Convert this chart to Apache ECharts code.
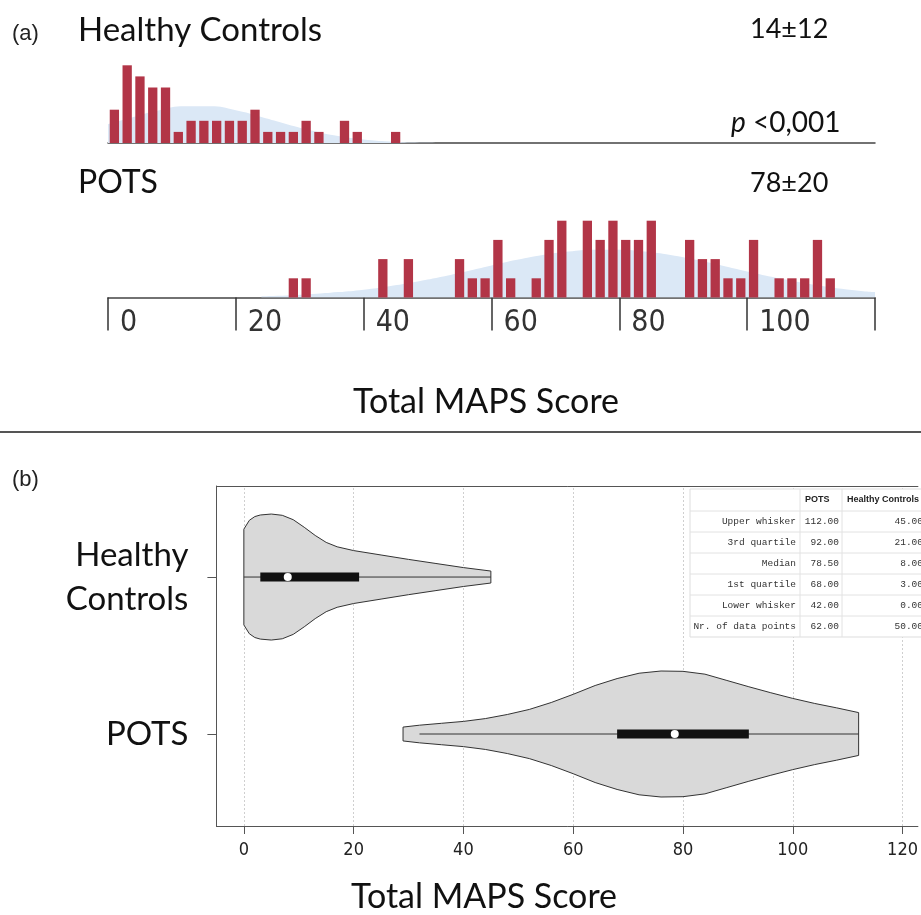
<!DOCTYPE html>
<html>
<head>
<meta charset="utf-8">
<script src="https://cdn.jsdelivr.net/npm/echarts@6/dist/echarts.min.js"></script>
<style>
  html, body { margin: 0; padding: 0; background: #ffffff; }
  #chart { width: 921px; height: 915px; }
</style>
</head>
<body>
<div id="chart"></div>
<script>
// ---- Histogram data (bins of width 2, first bin starts at 0) ----
const binWidth = 2;
const healthyCounts = [3, 7, 6, 5, 5, 1, 2, 2, 2, 2, 2, 3, 1, 1, 1, 2, 1, 0, 2, 1, 0, 0, 1];
const potsCounts = [
  0, 0, 0, 0, 0, 0, 0, 0, 0, 0, 0, 0, 0, 0, 1, 1, 0, 0, 0, 0,
  0, 2, 0, 2, 0, 0, 0, 2, 1, 1, 3, 1, 0, 1, 3, 4, 0, 4, 3, 4,
  3, 3, 4, 0, 0, 3, 2, 2, 1, 1, 3, 0, 1, 1, 1, 3, 1
];

// Smoothed distribution behind the bars: [score, height in counts]
const healthyDensity = [
  [0, 1.7], [4, 2.35], [8, 2.95], [12, 3.3], [16, 3.3], [20, 2.95], [24, 2.35],
  [28, 1.7], [32, 1.1], [36, 0.62], [40, 0.32], [44, 0.14], [48, 0.04], [52, 0]
];
const potsDensity = [
  [24, 0.07], [28, 0.11], [32, 0.18], [36, 0.28], [40, 0.41], [44, 0.59], [48, 0.81],
  [52, 1.07], [56, 1.36], [60, 1.67], [64, 1.96], [68, 2.21], [72, 2.39], [76, 2.49],
  [80, 2.49], [84, 2.39], [88, 2.21], [92, 1.96], [96, 1.67], [100, 1.36], [104, 1.07],
  [108, 0.81], [112, 0.59], [116, 0.41], [120, 0.28]
];

// ---- Group summaries ----
const healthySummary = '14±12';
const potsSummary = '78±20';
const pValueText = '<0,001';

// ---- Box plot statistics (table rows, in order) ----
const statNames = ['Upper whisker', '3rd quartile', 'Median', '1st quartile', 'Lower whisker', 'Nr. of data points'];
const potsStats = [112, 92, 78.5, 68, 42, 62];
const healthyStats = [45, 21, 8, 3, 0, 50];
const tableHeader = ['POTS', 'Healthy Controls'];
const potsLowest = 32;   // smallest POTS score, start of the centre line

// Violin outlines: [score, relative density (peak = 1)]
const healthyViolin = [
  [0, 0.76], [1, 0.90], [2, 0.96], [3, 0.985], [5, 1.0], [7, 0.98], [9, 0.91],
  [11, 0.79], [13, 0.66], [15, 0.55], [17, 0.48], [20, 0.42], [25, 0.35],
  [30, 0.28], [35, 0.215], [40, 0.15], [45, 0.095]
];
const potsViolin = [
  [29, 0.11], [32, 0.14], [36, 0.17], [40, 0.20], [44, 0.245], [48, 0.31],
  [52, 0.39], [56, 0.50], [60, 0.63], [64, 0.77], [68, 0.88], [72, 0.965],
  [76, 1.0], [80, 0.995], [84, 0.95], [88, 0.85], [92, 0.75], [96, 0.655],
  [100, 0.565], [104, 0.485], [108, 0.415], [112, 0.34]
];

// Axis ticks
const violinTicks = [0, 20, 40, 60, 80, 100, 120];
const groupNames = ['POTS', 'Healthy\nControls'];   // y positions 0 and 1

// ---- Styling ----
const BAR_COLOR = '#b23547';
const DENSITY_COLOR = '#dbe8f6';
const TITLE_FONT = "Lato, 'Open Sans', sans-serif";
const NARROW_FONT = "'Liberation Sans Narrow', 'DejaVu Sans Condensed', 'Liberation Sans', sans-serif";
const VIOLIN_HALF = 63;

const toBars = (counts) => counts.map((c, i) => [i * binWidth + binWidth / 2, c]);

function violinRenderer(profile, stats, lineFrom) {
  return function (params, api) {
    const yv = api.value(1);
    const up = [], down = [];
    profile.forEach(([v, d]) => {
      const p = api.coord([v, yv]);
      up.push([p[0], p[1] - d * VIOLIN_HALF]);
      down.unshift([p[0], p[1] + d * VIOLIN_HALF]);
    });
    const c = (v) => api.coord([v, yv]);
    const q1 = c(stats[3]), q3 = c(stats[1]), med = c(stats[2]);
    const w0 = c(lineFrom), w1 = c(stats[0]);
    return {
      type: 'group',
      children: [
        { type: 'polygon', shape: { points: up.concat(down) },
          style: { fill: '#d9d9d9', stroke: '#333', lineWidth: 1 } },
        { type: 'line', shape: { x1: w0[0], y1: w0[1], x2: w1[0], y2: w1[1] },
          style: { stroke: '#333', lineWidth: 1 } },
        { type: 'rect', shape: { x: q1[0], y: q1[1] - 4.5, width: q3[0] - q1[0], height: 9 },
          style: { fill: '#111' } },
        { type: 'circle', shape: { cx: med[0], cy: med[1], r: 4 },
          style: { fill: '#ffffff' } }
      ]
    };
  };
}

// ---- Statistics table ----
function buildTable() {
  const left = 690, colA = 800, colB = 842, right = 940;
  const top = 489, headH = 22, rowH = 21;
  const els = [];
  const bottom = top + headH + rowH * statNames.length;
  els.push({ type: 'rect', shape: { x: left, y: top, width: right - left, height: bottom - top },
    style: { fill: '#ffffff', stroke: '#dddddd', lineWidth: 1 }, z: 100 });
  [colA, colB].forEach(x => els.push({ type: 'line', shape: { x1: x, y1: top, x2: x, y2: bottom },
    style: { stroke: '#e2e2e2', lineWidth: 1 }, z: 101 }));
  for (let i = 0; i < statNames.length; i++) {
    const y = top + headH + rowH * i;
    els.push({ type: 'line', shape: { x1: left, y1: y, x2: right, y2: y },
      style: { stroke: '#e2e2e2', lineWidth: 1 }, z: 101 });
  }
  els.push({ type: 'text', x: colA + 5, y: top + headH / 2, z: 102,
    style: { text: tableHeader[0], font: "bold 9px 'Liberation Sans', Arial, sans-serif",
      fill: '#222', verticalAlign: 'middle' } });
  els.push({ type: 'text', x: colB + 5, y: top + headH / 2, z: 102,
    style: { text: tableHeader[1], font: "bold 9px 'Liberation Sans', Arial, sans-serif",
      fill: '#222', verticalAlign: 'middle' } });
  const mono = "9.5px 'Liberation Mono', 'DejaVu Sans Mono', monospace";
  statNames.forEach((name, i) => {
    const cy = top + headH + rowH * i + rowH / 2;
    els.push({ type: 'text', x: colA - 4, y: cy, z: 102,
      style: { text: name, font: mono, fill: '#333', align: 'right', verticalAlign: 'middle' } });
    els.push({ type: 'text', x: colB - 3, y: cy, z: 102,
      style: { text: potsStats[i].toFixed(2), font: mono, fill: '#333', align: 'right', verticalAlign: 'middle' } });
    els.push({ type: 'text', x: 923, y: cy, z: 102,
      style: { text: healthyStats[i].toFixed(2), font: mono, fill: '#333', align: 'right', verticalAlign: 'middle' } });
  });
  return els;
}

const chart = echarts.init(document.getElementById('chart'), null, { renderer: 'canvas' });

const titleText = (text, x, y, size, extra) => Object.assign({
  type: 'text', x: x, y: y, z: 50,
  style: Object.assign({ text: text, font: size + 'px ' + TITLE_FONT, fill: '#111', verticalAlign: 'middle' }, extra || {})
});

const option = {
  animation: false,
  backgroundColor: '#ffffff',
  textStyle: { fontFamily: TITLE_FONT },
  grid: [
    { left: 108, width: 767, top: 54.2, height: 88.8 },
    { left: 108, width: 767, top: 201.5, height: 96 },
    { left: 216.4, width: 705, top: 486, height: 340 }
  ],
  xAxis: [
    { gridIndex: 0, type: 'value', min: 0, max: 120,
      axisLine: { show: true, onZero: false, lineStyle: { color: '#444', width: 1.5 } },
      axisTick: { show: false }, axisLabel: { show: false }, splitLine: { show: false } },
    { gridIndex: 1, type: 'value', min: 0, max: 120, interval: 20,
      axisLine: { show: true, onZero: false, lineStyle: { color: '#444', width: 1.5 } },
      axisTick: { show: true, length: 33, lineStyle: { color: '#333', width: 1.5 } },
      axisLabel: { show: true, align: 'left', verticalAlign: 'middle', margin: 26, padding: [0, 0, 0, 12],
        fontFamily: NARROW_FONT, fontSize: 30, color: '#333',
        formatter: (v) => (v === 120 ? '' : String(v)) },
      splitLine: { show: false } },
    { gridIndex: 2, type: 'value', min: -5, max: 122.8,
      axisLine: { show: true, onZero: false, lineStyle: { color: '#555', width: 1 } },
      axisTick: { show: true, length: 8, customValues: violinTicks, lineStyle: { color: '#555' } },
      axisLabel: { show: true, customValues: violinTicks, margin: 24, verticalAlign: 'middle',
        fontFamily: NARROW_FONT, fontSize: 18, color: '#222' },
      splitLine: { show: false } },
    // top edge of the violin panel frame
    { gridIndex: 2, type: 'value', position: 'top', min: -5, max: 122.8,
      axisLine: { show: true, onZero: false, lineStyle: { color: '#555', width: 1 } },
      axisTick: { show: false }, axisLabel: { show: false }, splitLine: { show: false } }
  ],
  yAxis: [
    { gridIndex: 0, type: 'value', min: 0, max: 8, show: false },
    { gridIndex: 1, type: 'value', min: 0, max: 5, show: false },
    { gridIndex: 2, type: 'value', min: -0.586, max: 1.58,
      axisLine: { show: true, onZero: false, lineStyle: { color: '#555', width: 1 } },
      axisTick: { show: true, length: 9, customValues: [0, 1], lineStyle: { color: '#555' } },
      axisLabel: { show: true, customValues: [0, 1], margin: 28, align: 'right',
        fontFamily: TITLE_FONT, fontSize: 33, lineHeight: 44, color: '#111',
        formatter: (v) => groupNames[Math.round(v)] },
      splitLine: { show: false } }
  ],
  series: [
    { type: 'line', xAxisIndex: 0, yAxisIndex: 0, data: healthyDensity, smooth: true,
      showSymbol: false, lineStyle: { width: 0, opacity: 0 }, areaStyle: { color: DENSITY_COLOR, opacity: 1 },
      z: 1, silent: true },
    { type: 'bar', xAxisIndex: 0, yAxisIndex: 0, data: toBars(healthyCounts), barWidth: 9.3,
      itemStyle: { color: BAR_COLOR }, z: 2 },
    { type: 'line', xAxisIndex: 1, yAxisIndex: 1, data: potsDensity, smooth: true,
      showSymbol: false, lineStyle: { width: 0, opacity: 0 }, areaStyle: { color: DENSITY_COLOR, opacity: 1 },
      z: 1, silent: true },
    { type: 'bar', xAxisIndex: 1, yAxisIndex: 1, data: toBars(potsCounts), barWidth: 9.3,
      itemStyle: { color: BAR_COLOR }, z: 2 },
    // dotted vertical guides in the violin panel
    { type: 'line', xAxisIndex: 2, yAxisIndex: 2, data: [], silent: true,
      markLine: { silent: true, symbol: 'none', label: { show: false },
        lineStyle: { color: '#cfcfcf', type: [2, 2], width: 1 },
        data: violinTicks.map(v => ({ xAxis: v })) } },
    { type: 'custom', xAxisIndex: 2, yAxisIndex: 2, data: [[healthyStats[2], 1]],
      renderItem: violinRenderer(healthyViolin, healthyStats, healthyStats[4]), z: 5 },
    { type: 'custom', xAxisIndex: 2, yAxisIndex: 2, data: [[potsStats[2], 0]],
      renderItem: violinRenderer(potsViolin, potsStats, potsLowest), z: 5 }
  ],
  graphic: [
    titleText('(a)', 12, 34, 22, { font: "22px 'Liberation Sans', Arial, sans-serif", fill: '#222' }),
    titleText('Healthy Controls', 78, 30, 33),
    titleText(healthySummary, 750, 29, 27),
    { type: 'text', x: 731, y: 123, z: 50,
      style: { text: '{i|p} ' + pValueText, verticalAlign: 'middle',
        font: '28px ' + TITLE_FONT, fill: '#111',
        rich: { i: { fontStyle: 'italic', fontSize: 28, fontFamily: TITLE_FONT, fill: '#111' } } } },
    titleText('POTS', 78, 183, 32),
    titleText(potsSummary, 750, 183, 27),
    titleText('Total MAPS Score', 486, 402, 34, { align: 'center' }),
    { type: 'line', shape: { x1: 0, y1: 432, x2: 921, y2: 432 }, style: { stroke: '#555', lineWidth: 2 }, z: 50 },
    titleText('(b)', 12, 480, 22, { font: "22px 'Liberation Sans', Arial, sans-serif", fill: '#222' }),
    titleText('Total MAPS Score', 484, 897, 34, { align: 'center' })
  ].concat(buildTable())
};

chart.setOption(option);
</script>
</body>
</html>
